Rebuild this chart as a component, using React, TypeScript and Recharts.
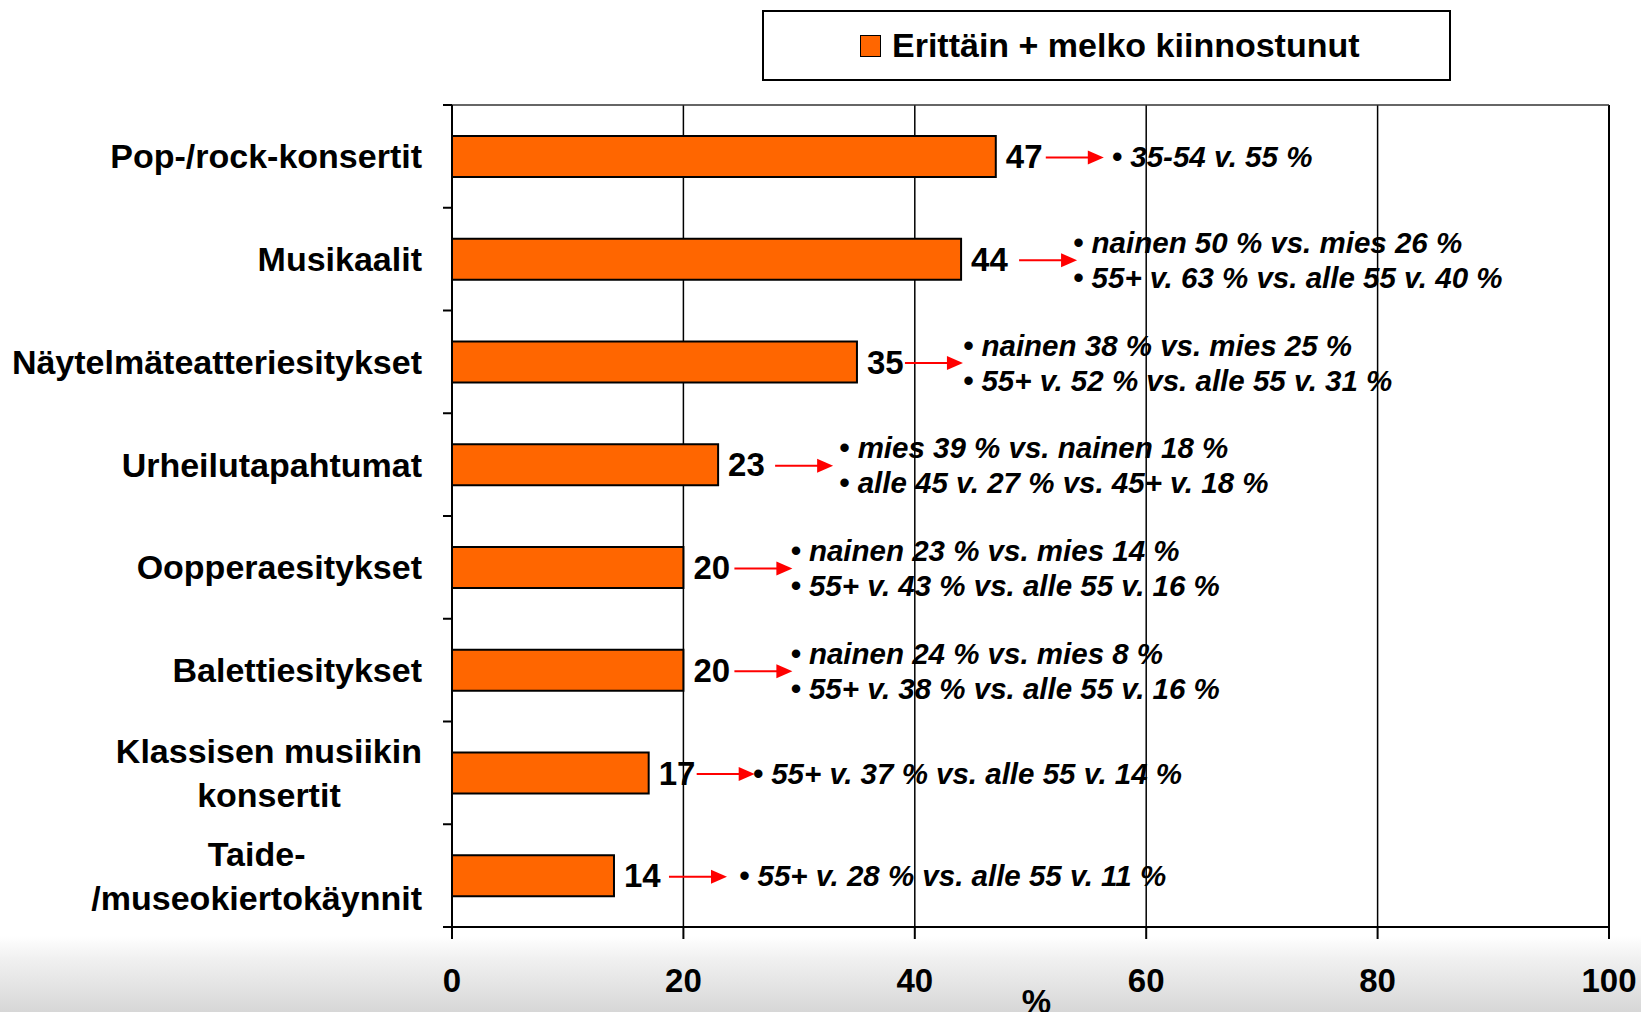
import React from "react";
import {
  BarChart,
  Bar,
  XAxis,
  YAxis,
  CartesianGrid,
  ReferenceLine,
  Legend,
  LabelList,
} from "recharts";

const FONT = '"Liberation Sans", Arial, Helvetica, sans-serif';
const ORANGE = "#FF6600";

const categories = [
  "Pop-/rock-konsertit",
  "Musikaalit",
  "Näytelmäteatteriesitykset",
  "Urheilutapahtumat",
  "Oopperaesitykset",
  "Balettiesitykset",
  "Klassisen musiikin\nkonsertit",
  "Taide-\n/museokiertokäynnit",
];

const values = [47, 44, 35, 23, 20, 20, 17, 14];

const notes = [
  ["35-54 v. 55 %"],
  ["nainen 50 % vs. mies 26 %", "55+ v. 63 % vs. alle 55 v. 40 %"],
  ["nainen 38 % vs. mies 25 %", "55+ v. 52 % vs. alle 55 v. 31 %"],
  ["mies 39 % vs. nainen 18 %", "alle 45 v. 27 % vs. 45+ v. 18 %"],
  ["nainen 23 % vs. mies 14 %", "55+ v. 43 % vs. alle 55 v. 16 %"],
  ["nainen 24 % vs. mies 8 %", "55+ v. 38 % vs. alle 55 v. 16 %"],
  ["55+ v. 37 % vs. alle 55 v. 14 %"],
  ["55+ v. 28 % vs. alle 55 v. 11 %"],
];

const xTicks = [0, 20, 40, 60, 80, 100];
const seriesName = "Erittäin + melko kiinnostunut";

// small hand nudges of the arrows / note texts, as in the original slide
const arrowNudge = [0, 8, -2, 7, 1, 1, -2, 5];
const noteGap = [8, -4, 0, 6, -2, -2, -2, 12];

const data = categories.map((name, i) => ({ name, value: values[i] }));

// the helper axis spans the row indexes 0..n-1; its ticks sit on the row boundaries
const n = categories.length;
const boundaryTicks = Array.from({ length: n + 1 }, (_, k) => (k * (n - 1)) / n);

let ctx: CanvasRenderingContext2D | null = null;
function measure(text: string) {
  if (!ctx) ctx = document.createElement("canvas").getContext("2d");
  if (!ctx) return text.length * 17;
  ctx.font = `bold 34px ${FONT}`;
  return ctx.measureText(text).width;
}

function CategoryTick(props: any) {
  const { x, y, payload } = props;
  const lines = String(payload.value).split("\n");
  const right = x;
  const style = { fontFamily: FONT, fontWeight: 700, fontSize: 34, fill: "#000" };
  if (lines.length === 1) {
    return (
      <text x={right} y={y} textAnchor="end" dominantBaseline="central" style={style}>
        {lines[0]}
      </text>
    );
  }
  const w = Math.max(...lines.map(measure));
  const cx = right - w / 2;
  return (
    <g>
      {lines.map((l, i) => (
        <text
          key={i}
          x={cx}
          y={y + (i - (lines.length - 1) / 2) * 44}
          textAnchor="middle"
          dominantBaseline="central"
          style={style}
        >
          {l}
        </text>
      ))}
    </g>
  );
}

function BarNote(props: any) {
  const { x, y, width, height, index, value } = props;
  const i = typeof index === "number" ? index : values.indexOf(Number(value));
  const endX = Number(x) + Number(width);
  const cy = Number(y) + Number(height) / 2;
  const a0 = endX + 50 + (arrowNudge[i] || 0);
  const a1 = a0 + 58;
  const lines = notes[i] || [];
  return (
    <g>
      <text
        x={endX + 10}
        y={cy}
        dominantBaseline="central"
        style={{ fontFamily: FONT, fontWeight: 700, fontSize: 33, fill: "#000" }}
      >
        {value}
      </text>
      <line x1={a0} y1={cy + 1} x2={a1 - 12} y2={cy + 1} stroke="#FF0000" strokeWidth={2} />
      <polygon
        points={`${a1},${cy + 1} ${a1 - 16},${cy - 6} ${a1 - 16},${cy + 8}`}
        fill="#FF0000"
      />
      {lines.map((l, k) => (
        <text
          key={k}
          x={a1 + (noteGap[i] ?? 8)}
          y={lines.length === 1 ? cy : cy + (k === 0 ? -17 : 18)}
          dominantBaseline="central"
          style={{
            fontFamily: FONT,
            fontWeight: 700,
            fontStyle: "italic",
            fontSize: 29.5,
            fill: "#000",
          }}
        >
          {"• " + l}
        </text>
      ))}
    </g>
  );
}

function LegendBox() {
  return (
    <div
      style={{
        width: 689,
        height: 71,
        boxSizing: "border-box",
        border: "2px solid #000",
        background: "#fff",
        display: "flex",
        alignItems: "center",
        paddingLeft: 96,
        fontFamily: FONT,
        fontWeight: 700,
        fontSize: 34,
        color: "#000",
      }}
    >
      <span
        style={{
          display: "inline-block",
          width: 21,
          height: 22,
          boxSizing: "border-box",
          background: ORANGE,
          border: "1.5px solid #000",
          marginRight: 11,
        }}
      />
      <span>{seriesName}</span>
    </div>
  );
}

export default function App() {
  return (
    <div
      style={{
        position: "absolute",
        left: 0,
        top: 0,
        width: 1641,
        height: 1012,
        overflow: "hidden",
        background:
          "linear-gradient(to bottom, #ffffff 0px, #ffffff 936px, #f1f1f1 958px, #d7d7d7 1012px)",
      }}
    >
      <BarChart
        width={1641}
        height={1012}
        data={data}
        layout="vertical"
        margin={{ top: 104, right: 32, bottom: 0, left: 0 }}
        barCategoryGap={0}
      >
        <CartesianGrid
          horizontal={false}
          vertical
          stroke="#000"
          strokeWidth={1.5}
          yAxisId="b"
        />
        <XAxis
          type="number"
          domain={[0, 100]}
          ticks={xTicks}
          interval={0}
          height={85}
          axisLine={{ stroke: "#000", strokeWidth: 2 }}
          tickLine={{ stroke: "#000", strokeWidth: 2 }}
          tickSize={12}
          tickMargin={30}
          tick={{ fill: "#000", fontFamily: FONT, fontWeight: 700, fontSize: 33 }}
          label={{
            content: (p: any) => {
              const vb = p.viewBox || { x: 452, y: 927, width: 1157, height: 85 };
              return (
                <text
                  x={vb.x + vb.width / 2 + 6}
                  y={vb.y + 86}
                  textAnchor="middle"
                  style={{ fontFamily: FONT, fontWeight: 700, fontSize: 33, fill: "#000" }}
                >
                  %
                </text>
              );
            },
          }}
        />
        <XAxis
          xAxisId="top"
          orientation="top"
          type="number"
          domain={[0, 100]}
          height={1}
          axisLine={{ stroke: "#333", strokeWidth: 1.5 }}
          tickLine={false}
          tickFormatter={() => ""}
        />
        <YAxis
          yAxisId="a"
          type="number"
          domain={[0, n - 1]}
          allowDataOverflow
          ticks={boundaryTicks}
          interval={0}
          reversed
          width={1}
          axisLine={{ stroke: "#000", strokeWidth: 2 }}
          tickLine={{ stroke: "#000", strokeWidth: 2 }}
          tickSize={9}
          tickFormatter={() => ""}
        />
        <YAxis
          yAxisId="b"
          type="category"
          dataKey="name"
          width={451}
          interval={0}
          axisLine={false}
          tickLine={false}
          tickSize={0}
          tickMargin={29}
          tick={<CategoryTick />}
        />
        <ReferenceLine yAxisId="b" x={100} stroke="#000" strokeWidth={2} />
        <Legend
          layout="vertical"
          align="center"
          verticalAlign="middle"
          wrapperStyle={{ top: 10, left: 762, width: 689, height: 71 }}
          content={() => <LegendBox />}
        />
        <Bar
          yAxisId="b"
          dataKey="value"
          name={seriesName}
          fill={ORANGE}
          stroke="#000"
          strokeWidth={2}
          barSize={41}
          isAnimationActive={false}
        >
          <LabelList dataKey="value" content={<BarNote />} />
        </Bar>
      </BarChart>
    </div>
  );
}
